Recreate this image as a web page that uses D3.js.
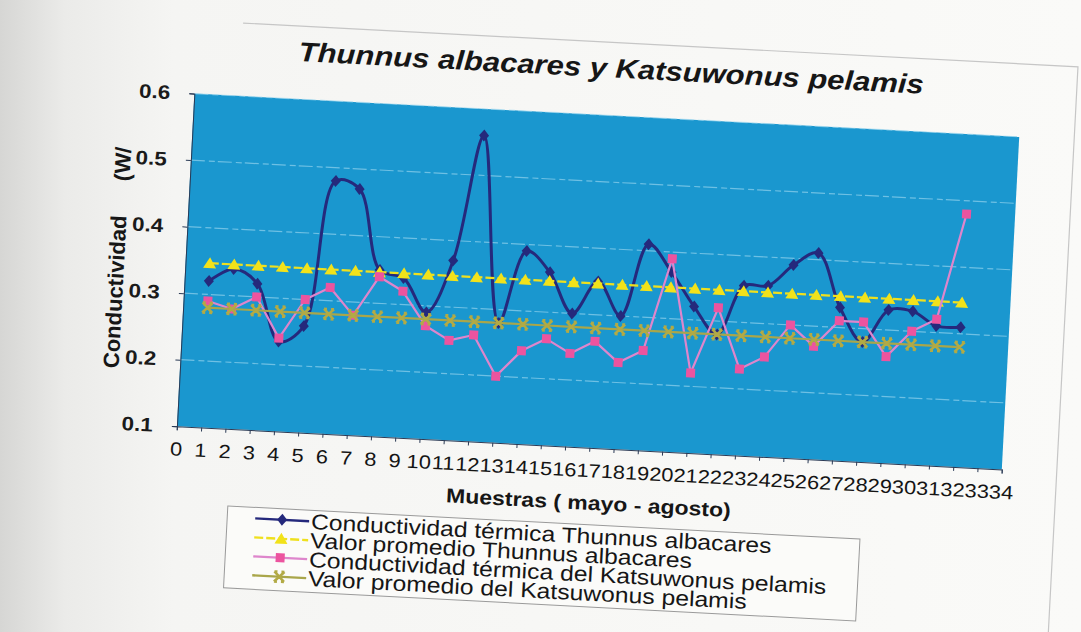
<!DOCTYPE html>
<html><head><meta charset="utf-8">
<script src="https://cdn.jsdelivr.net/npm/d3@7"></script>
<style>body{margin:0;background:#f6f6f4}svg{display:block}</style>
</head><body>
<svg id="c" width="1081" height="632"></svg>
<script>
// ---------- data ----------
const samples = [1,2,3,4,5,6,7,8,9,10,11,12,13,14,15,16,17,18,19,20,21,22,23,24,25,26,27,28,29,30,31,32];
const xTicks = [0,1,2,3,4,5,6,7,8,9,10,11,12,13,14,15,16,17,18,19,20,21,22,23,24,25,26,27,28,29,30,31,32,33,34];
const yTicks = [0.1,0.2,0.3,0.4,0.5,0.6];
const thunnus = [0.32,0.34,0.32,0.235,0.26,0.48,0.47,0.35,0.34,0.29,0.37,0.56,0.28,0.39,0.36,0.30,0.35,0.30,0.41,0.37,0.32,0.28,0.355,0.357,0.39,0.41,0.33,0.28,0.33,0.33,0.31,0.31];
const thunnusAvg = [0.347,0.347,0.347,0.347,0.347,0.347,0.347,0.347,0.347,0.347,0.347,0.347,0.347,0.347,0.347,0.347,0.347,0.347,0.347,0.347,0.347,0.347,0.347,0.347,0.347,0.347,0.347,0.347,0.347,0.347,0.347,0.347];
const katsu = [0.29,0.28,0.30,0.24,0.30,0.32,0.28,0.34,0.32,0.27,0.25,0.26,0.20,0.24,0.26,0.24,0.26,0.23,0.25,0.39,0.22,0.32,0.23,0.25,0.30,0.27,0.31,0.31,0.26,0.30,0.32,0.48];
const katsuAvg = [0.28,0.28,0.28,0.28,0.28,0.28,0.28,0.28,0.28,0.28,0.28,0.28,0.28,0.28,0.28,0.28,0.28,0.28,0.28,0.28,0.28,0.28,0.28,0.28,0.28,0.28,0.28,0.28,0.28,0.28,0.28,0.28];
const seriesNames = ["Conductividad térmica Thunnus albacares","Valor promedio Thunnus albacares","Conductividad térmica del Katsuwonus pelamis","Valor promedio del Katsuwonus pelamis"];
const titleText = "Thunnus albacares y Katsuwonus pelamis";
const xTitle = "Muestras ( mayo - agosto)";
const yTitle1 = "Conductividad";
const yTitle2 = "(W/";

// ---------- layout ----------
const W = 1081, H = 632, SX = 1.15;
const FONT = "'Liberation Sans', Arial, sans-serif";
const svg = d3.select("#c");
const defs = svg.append("defs");
const grad = defs.append("linearGradient").attr("id","paper").attr("x1",0).attr("x2",1).attr("y1",0).attr("y2",0);
[["0%","#d6d6d4"],["6%","#ebebe9"],["16%","#f5f5f3"],["100%","#fafaf8"]].forEach(s=>grad.append("stop").attr("offset",s[0]).attr("stop-color",s[1]));
svg.append("rect").attr("width",W).attr("height",H).attr("fill","url(#paper)");

const g = svg.append("g").attr("transform","rotate(3,598,283)");
const plot = {l:185, r:1011, t:115, b:448};
const x = d3.scaleLinear().domain([0,34]).range([plot.l, plot.r]);
const y = d3.scaleLinear().domain([0.1,0.6]).range([plot.b, plot.t]);

// chart area border (top/right)
g.append("path").attr("d","M230,42H1066V680").attr("fill","none").attr("stroke","#c6c6c6").attr("stroke-width",1.2);

// title
g.append("text").text(titleText)
  .attr("transform",`translate(600,77) scale(${SX},1)`)
  .attr("text-anchor","middle").attr("font-family",FONT).attr("font-size",27)
  .attr("font-weight","bold").attr("font-style","italic").attr("fill","#161616");

// plot background
g.append("rect").attr("x",plot.l).attr("y",plot.t).attr("width",plot.r-plot.l).attr("height",plot.b-plot.t).attr("fill","#1a97cf");

// gridlines
g.append("g").selectAll("line").data(yTicks.filter(v=>v>0.1)).join("line")
  .attr("x1",plot.l).attr("x2",plot.r).attr("y1",d=>y(d)).attr("y2",d=>y(d))
  .attr("stroke","#a6dcf2").attr("stroke-opacity",0.6).attr("stroke-width",1.2).attr("stroke-dasharray","14 4 6 3");

// axes
const xa = g.append("g").attr("transform",`translate(0,${plot.b})`)
  .call(d3.axisBottom(x).tickValues(xTicks).tickFormat(d3.format("d")).tickSize(4).tickPadding(12));
xa.attr("font-family",FONT).attr("font-size",19);
xa.select(".domain").attr("stroke","#2a3a55");
xa.selectAll(".tick line").attr("stroke","#2a3a55");
xa.selectAll("text").attr("fill","#141414").attr("transform",`scale(${SX},1)`);

const ya = g.append("g").attr("transform",`translate(${plot.l},0)`)
  .call(d3.axisLeft(y).tickValues(yTicks).tickFormat(d3.format(".1f")).tickSize(5).tickPadding(16));
ya.attr("font-family",FONT).attr("font-size",19.5).attr("font-weight","bold");
ya.select(".domain").attr("stroke","#2a3a55");
ya.selectAll(".tick line").attr("stroke","#2a3a55");
ya.selectAll("text").attr("fill","#1a1a1a").attr("transform",`scale(${SX},1)`);

// axis titles
g.append("text").text(xTitle)
  .attr("transform",`translate(600,510) scale(${SX},1)`)
  .attr("text-anchor","middle").attr("font-family",FONT).attr("font-size",20).attr("font-weight","bold").attr("fill","#161616");
g.append("text").text(yTitle1)
  .attr("transform","translate(116,317) rotate(-90)").attr("dy","0.35em")
  .attr("text-anchor","middle").attr("font-family",FONT).attr("font-size",22).attr("font-weight","bold").attr("fill","#161616");
g.append("text").text(yTitle2)
  .attr("transform","translate(117,189) rotate(-90)").attr("dy","0.35em")
  .attr("text-anchor","middle").attr("font-family",FONT).attr("font-size",22).attr("font-weight","bold").attr("fill","#161616");

// ---------- marks ----------
const sym = {
  diamond: "M0,-6L5,0L0,6L-5,0Z",
  triangle: "M0,-6L6.5,5L-6.5,5Z",
  square: "M-4.5,-4.5H4.5V4.5H-4.5Z",
  x: "M-5,-5L5,5M5,-5L-5,5M-5,-5H-2M2,-5H5M-5,5H-2M2,5H5"
};
const series = [
  {name:seriesNames[0], data:thunnus, line:"#25297c", lw:3, dash:null, curve:d3.curveCatmullRom.alpha(0.5), sym:"diamond", fill:"#25297c", stroke:"none"},
  {name:seriesNames[1], data:thunnusAvg, line:"#efe01e", lw:2.2, dash:"9 3", curve:d3.curveLinear, sym:"triangle", fill:"#f2e21a", stroke:"none"},
  {name:seriesNames[2], data:katsu, line:"#de86cc", lw:2.2, dash:null, curve:d3.curveLinear, sym:"square", fill:"#ec549f", stroke:"none"},
  {name:seriesNames[3], data:katsuAvg, line:"#a9a64a", lw:2.2, dash:null, curve:d3.curveLinear, sym:"x", fill:"none", stroke:"#b2aa45"}
];
series.forEach(s=>{
  const ln = d3.line().x((d,i)=>x(samples[i])).y(d=>y(d)).curve(s.curve);
  g.append("path").attr("d",ln(s.data)).attr("fill","none").attr("stroke",s.line)
    .attr("stroke-width",s.lw).attr("stroke-dasharray",s.dash).attr("stroke-linejoin","round");
  g.append("g").selectAll("path").data(s.data).join("path")
    .attr("transform",(d,i)=>`translate(${x(samples[i])},${y(d)})`)
    .attr("d",sym[s.sym]).attr("fill",s.fill).attr("stroke",s.stroke)
    .attr("stroke-width",s.sym==="x"?2.6:0);
});

// ---------- legend ----------
const lg = g.append("g");
lg.append("rect").attr("x",240).attr("y",525).attr("width",633).attr("height",82)
  .attr("fill","#fbfbf9").attr("stroke","#9a9a9a").attr("stroke-width",1);
series.forEach((s,i)=>{
  const cy = 536 + i*19;
  lg.append("line").attr("x1",268).attr("x2",322).attr("y1",cy).attr("y2",cy)
    .attr("stroke",s.line).attr("stroke-width",2.4).attr("stroke-dasharray",s.dash);
  lg.append("path").attr("transform",`translate(295,${cy})`).attr("d",sym[s.sym])
    .attr("fill",s.fill).attr("stroke",s.stroke).attr("stroke-width",s.sym==="x"?2.6:0);
  lg.append("text").text(s.name)
    .attr("transform",`translate(324,${cy}) scale(${SX},1)`).attr("dy","0.36em")
    .attr("font-family",FONT).attr("font-size",21.5).attr("fill","#161616");
});
</script>
</body></html>
